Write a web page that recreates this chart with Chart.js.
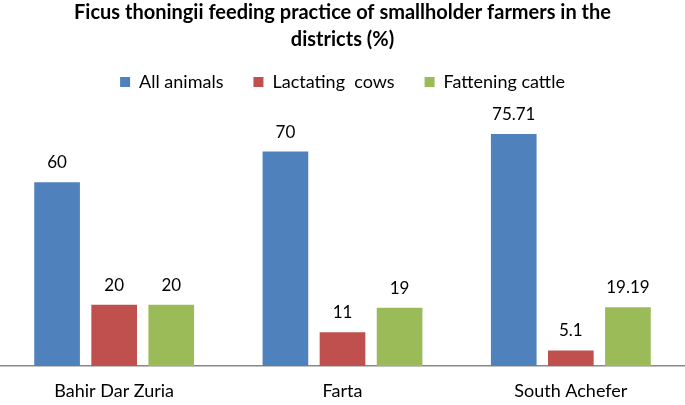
<!DOCTYPE html>
<html>
<head>
<meta charset="utf-8">
<script src="https://cdn.jsdelivr.net/npm/chart.js@4/dist/chart.umd.min.js"></script>
<style>
  html, body { margin: 0; padding: 0; background: #fff; }
  #wrap { width: 685px; height: 405px; position: relative; }
</style>
</head>
<body>
<div id="wrap"><canvas id="c" width="685" height="405"></canvas></div>
<script>
const categories = ["Bahir Dar Zuria", "Farta", "South Achefer"];
const allAnimals = [60, 70, 75.71];
const lactatingCows = [20, 11, 5.1];
const fatteningCattle = [20, 19, 19.19];
const seriesNames = ["All animals", "Lactating  cows", "Fattening cattle"];
const titleLines = ["Ficus thoningii feeding practice of smallholder farmers in the", "districts (%)"];

const FONT = "Lato, 'Open Sans', sans-serif";

const valueLabels = {
  id: 'valueLabels',
  afterDatasetsDraw(chart) {
    const ctx = chart.ctx;
    ctx.save();
    ctx.font = "17px " + FONT;
    ctx.fillStyle = "#000";
    ctx.textAlign = "center";
    ctx.textBaseline = "bottom";
    chart.data.datasets.forEach((ds, i) => {
      const meta = chart.getDatasetMeta(i);
      meta.data.forEach((bar, j) => {
        ctx.fillText(String(ds.data[j]), bar.x, bar.y - 11);
      });
    });
    ctx.restore();
  }
};

new Chart(document.getElementById('c'), {
  type: 'bar',
  data: {
    labels: categories,
    datasets: [
      { label: seriesNames[0], data: allAnimals, backgroundColor: '#4F81BD' },
      { label: seriesNames[1], data: lactatingCows, backgroundColor: '#C0504D' },
      { label: seriesNames[2], data: fatteningCattle, backgroundColor: '#9BBB59' }
    ]
  },
  options: {
    responsive: false,
    animation: false,
    devicePixelRatio: 1,
    categoryPercentage: 0.75,
    barPercentage: 0.8,
    layout: { padding: { left: 0, right: 0, top: 0, bottom: 0 } },
    plugins: {
      title: {
        display: true,
        text: titleLines,
        color: '#000',
        font: { family: FONT, size: 20, weight: 'bold', lineHeight: 1.35 },
        padding: { top: -1, bottom: -10 }
      },
      legend: {
        display: true,
        labels: {
          color: '#000',
          font: { family: FONT, size: 18 },
          boxWidth: 10,
          boxHeight: 10,
          padding: 30
        }
      },
      tooltip: { enabled: false }
    },
    scales: {
      x: {
        grid: { display: false, drawTicks: false },
        border: { display: true, color: '#888', width: 1.5 },
        ticks: { color: '#000', font: { family: FONT, size: 18 }, padding: 14 },
        afterFit(scale) { scale.height = 39; }
      },
      y: {
        display: false,
        min: 0,
        max: 86.5
      }
    }
  },
  plugins: [valueLabels]
});
</script>
</body>
</html>
